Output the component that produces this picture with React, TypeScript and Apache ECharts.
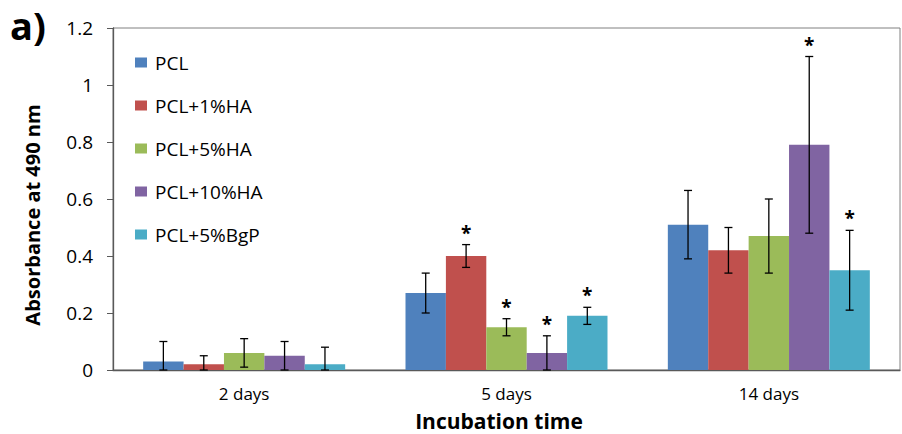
import React, { useEffect, useRef } from "react";
import * as echarts from "echarts";

const categories = ["2 days", "5 days", "14 days"];
const seriesNames = ["PCL", "PCL+1%HA", "PCL+5%HA", "PCL+10%HA", "PCL+5%BgP"];
const colors = ["#4F81BD", "#C0504D", "#9BBB59", "#8064A2", "#4BACC6"];

const pclMean = [0.03, 0.27, 0.51];
const ha1Mean = [0.02, 0.4, 0.42];
const ha5Mean = [0.06, 0.15, 0.47];
const ha10Mean = [0.05, 0.06, 0.79];
const bgpMean = [0.02, 0.19, 0.35];

const pclErr = [0.07, 0.07, 0.12];
const ha1Err = [0.03, 0.04, 0.08];
const ha5Err = [0.05, 0.03, 0.13];
const ha10Err = [0.05, 0.06, 0.31];
const bgpErr = [0.06, 0.03, 0.14];

const pclSig = [0, 0, 0];
const ha1Sig = [0, 1, 0];
const ha5Sig = [0, 1, 0];
const ha10Sig = [0, 1, 1];
const bgpSig = [0, 1, 1];

const yTicks = [0, 0.2, 0.4, 0.6, 0.8, 1, 1.2];

const means = [pclMean, ha1Mean, ha5Mean, ha10Mean, bgpMean];
const errs = [pclErr, ha1Err, ha5Err, ha10Err, bgpErr];
const sigs = [pclSig, ha1Sig, ha5Sig, ha10Sig, bgpSig];

const CAT_GAP = 0.23;
const FONT = "'Open Sans', 'Liberation Sans', sans-serif";

export default function App() {
  const ref = useRef<HTMLDivElement>(null);
  useEffect(() => {
    if (!ref.current) return;
    const chart = echarts.init(ref.current, undefined, { renderer: "svg" });
    const n = seriesNames.length;
    const barSeries = seriesNames.map((name, i) => ({
      name,
      type: "bar",
      data: means[i],
      barGap: "0%",
      barCategoryGap: CAT_GAP * 100 + "%",
      itemStyle: { color: colors[i] },
      z: 2,
    }));
    const errSeries = seriesNames.map((name, i) => ({
      name: name + "_err",
      type: "custom",
      data: means[i].map((v, c) => [c, v, errs[i][c], sigs[i][c]]),
      encode: { x: 0, y: 1 },
      z: 5,
      renderItem: (params: any, api: any) => {
        const c = api.value(0);
        const v = api.value(1);
        const e = api.value(2);
        const s = api.value(3);
        const center = api.coord([c, v]);
        const band = api.size([1, 0])[0];
        const bw = (band * (1 - CAT_GAP)) / n;
        const x = center[0] + (i - (n - 1) / 2) * bw;
        const top = api.coord([c, v + e])[1];
        const bot = api.coord([c, Math.max(0, v - e)])[1];
        const cap = 4;
        const st = { stroke: "#000", lineWidth: 1.3 };
        const children: any[] = [
          { type: "line", shape: { x1: x, y1: top, x2: x, y2: bot }, style: st },
          { type: "line", shape: { x1: x - cap, y1: top, x2: x + cap, y2: top }, style: st },
          { type: "line", shape: { x1: x - cap, y1: bot, x2: x + cap, y2: bot }, style: st },
        ];
        if (s) {
          children.push({
            type: "text",
            style: {
              text: "*",
              x: x,
              y: top - 12,
              align: "center",
              verticalAlign: "middle",
              fontSize: 19,
              fontWeight: "bold",
              fontFamily: FONT,
              fill: "#000",
            },
          });
        }
        return { type: "group", children };
      },
    }));
    chart.setOption({
      animation: false,
      backgroundColor: "#fff",
      grid: {
        left: 113,
        right: 2,
        top: 28,
        bottom: 64,
        show: true,
        borderColor: "#808080",
        borderWidth: 1,
        backgroundColor: "transparent",
      },
      legend: {
        orient: "vertical",
        left: 130,
        top: 48,
        itemWidth: 12,
        itemHeight: 10,
        itemGap: 24,
        icon: "rect",
        data: seriesNames,
        textStyle: {
          fontSize: 19,
          lineHeight: 19,
          fontFamily: FONT,
          color: "#000",
          padding: [0, 0, 0, 3],
        },
      },
      xAxis: {
        type: "category",
        data: categories,
        axisLine: { lineStyle: { color: "#595959", width: 1.3 } },
        axisTick: { show: false },
        axisLabel: { fontSize: 17, fontFamily: FONT, color: "#000", margin: 15 },
      },
      yAxis: {
        type: "value",
        min: 0,
        max: 1.2,
        interval: 0.2,
        axisLine: { show: true, lineStyle: { color: "#595959", width: 1.3 } },
        axisTick: { show: true, inside: false, length: 6, lineStyle: { color: "#595959" } },
        splitLine: { show: false },
        axisLabel: {
          fontSize: 19,
          fontFamily: FONT,
          color: "#000",
          margin: 20,
          formatter: (v: number) => {
            const t = yTicks.find((k) => Math.abs(k - v) < 1e-9);
            return t === undefined ? "" : String(t);
          },
        },
      },
      graphic: [
        {
          type: "text",
          left: 10,
          top: 6,
          style: { text: "a)", fontSize: 38, fontWeight: "bold", fontFamily: FONT, fill: "#000" },
        },
        {
          type: "text",
          x: 32,
          y: 215,
          rotation: Math.PI / 2,
          style: {
            text: "Absorbance at 490 nm",
            align: "center",
            verticalAlign: "middle",
            fontSize: 20,
            fontWeight: "bold",
            fontFamily: FONT,
            fill: "#000",
          },
        },
        {
          type: "text",
          x: 499,
          y: 421,
          style: {
            text: "Incubation time",
            align: "center",
            verticalAlign: "middle",
            fontSize: 21,
            fontWeight: "bold",
            fontFamily: FONT,
            fill: "#000",
          },
        },
      ],
      series: [...barSeries, ...errSeries],
    });
    return () => chart.dispose();
  }, []);
  return <div ref={ref} style={{ width: 902, height: 434, position: "absolute", left: 0, top: 0 }} />;
}
